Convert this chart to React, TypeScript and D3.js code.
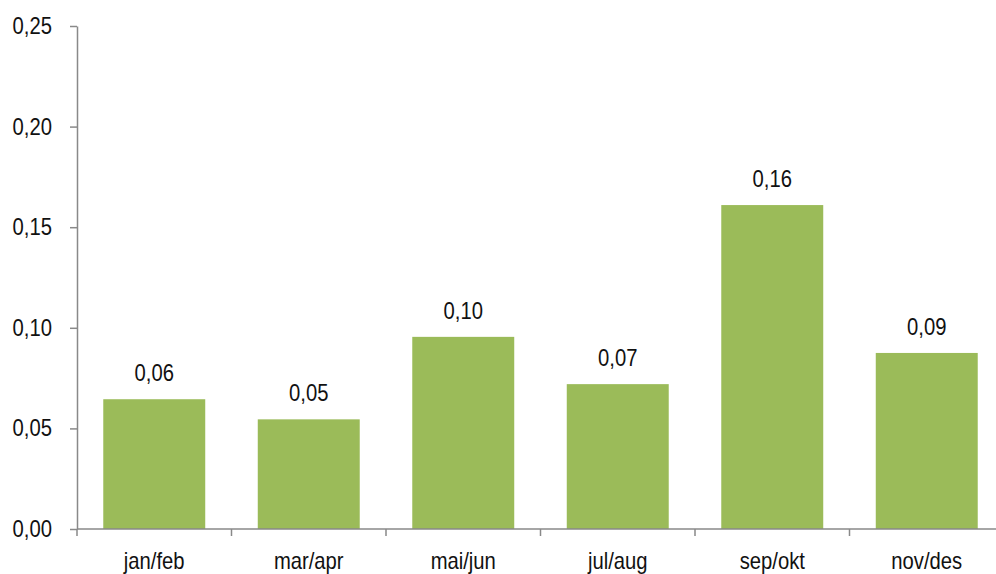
import React, { useEffect, useRef } from 'react';
import * as d3 from 'd3';

const categories = ['jan/feb', 'mar/apr', 'mai/jun', 'jul/aug', 'sep/okt', 'nov/des'];
const values = [0.0645, 0.0545, 0.0955, 0.072, 0.161, 0.0875];
const yTicks = [0, 0.05, 0.1, 0.15, 0.2, 0.25];

const W = 996;
const H = 574;
const FONT = '"Liberation Sans", Arial, sans-serif';
const FONT_SIZE = 23;
const SQUEEZE = 0.88; // narrow-font look

const fmt = (v: number) => v.toFixed(2).replace('.', ',');

const App: React.FC = () => {
    const svgRef = useRef<SVGSVGElement>(null);

    useEffect(() => {
        if (!svgRef.current) return;
        const svg = d3.select(svgRef.current);
        svg.selectAll('*').remove();

        const left = 77, right = 1004, top = 26, bottom = 529;
        const axisColor = '#898989';

        const x = d3.scaleBand<string>()
            .domain(categories)
            .range([left, right])
            .paddingInner(0.34)
            .paddingOuter(0.17);

        const y = d3.scaleLinear().domain([0, 0.25]).range([bottom, top]);

        // condensed text helper
        const label = (g: d3.Selection<SVGGElement, unknown, null, undefined>, tx: number, ty: number, txt: string, anchor: string) => {
            g.append('g')
                .attr('transform', `translate(${tx},${ty})`)
                .append('text')
                .attr('transform', `scale(${SQUEEZE},1)`)
                .attr('text-anchor', anchor)
                .attr('fill', '#111')
                .style('font-family', FONT)
                .style('font-size', `${FONT_SIZE}px`)
                .text(txt);
        };

        // Y axis
        const yAxis = svg.append('g')
            .attr('transform', `translate(${left},0)`)
            .call(d3.axisLeft(y).tickValues(yTicks).tickSize(7).tickSizeOuter(0).tickFormat(() => ''));
        yAxis.select('.domain').attr('stroke', axisColor).attr('stroke-width', 1.5);
        yAxis.selectAll('.tick line').attr('stroke', axisColor).attr('stroke-width', 1.5);
        const yLabels = svg.append('g');
        yTicks.forEach(t => label(yLabels, 52, y(t) + 8, fmt(t), 'end'));

        // Bars
        svg.append('g')
            .selectAll('rect')
            .data(values)
            .join('rect')
            .attr('x', (_, i) => x(categories[i])!)
            .attr('y', d => y(d))
            .attr('width', x.bandwidth())
            .attr('height', d => bottom - y(d))
            .attr('fill', '#9BBB59');

        // X axis
        const step = x.step();
        const boundaries = d3.range(categories.length + 1).map(i => left + i * step);
        const xAxis = svg.append('g');
        xAxis.append('line')
            .attr('x1', left).attr('x2', right)
            .attr('y1', bottom).attr('y2', bottom)
            .attr('stroke', axisColor).attr('stroke-width', 1.5);
        xAxis.selectAll('line.tick')
            .data(boundaries)
            .join('line')
            .attr('class', 'tick')
            .attr('x1', d => d).attr('x2', d => d)
            .attr('y1', bottom).attr('y2', bottom + 7)
            .attr('stroke', axisColor).attr('stroke-width', 1.5);
        categories.forEach(c => label(xAxis, x(c)! + x.bandwidth() / 2, bottom + 40, c, 'middle'));

        // Value labels
        const valueLabels = svg.append('g');
        values.forEach((v, i) =>
            label(valueLabels, x(categories[i])! + x.bandwidth() / 2, y(v) - 18, fmt(v), 'middle'));
    }, []);

    return (
        <div style={{ position: 'fixed', left: 0, top: 0, width: W, height: H, background: '#fff' }}>
            <svg ref={svgRef} width={W} height={H} style={{ display: 'block' }} />
        </div>
    );
};

export default App;
